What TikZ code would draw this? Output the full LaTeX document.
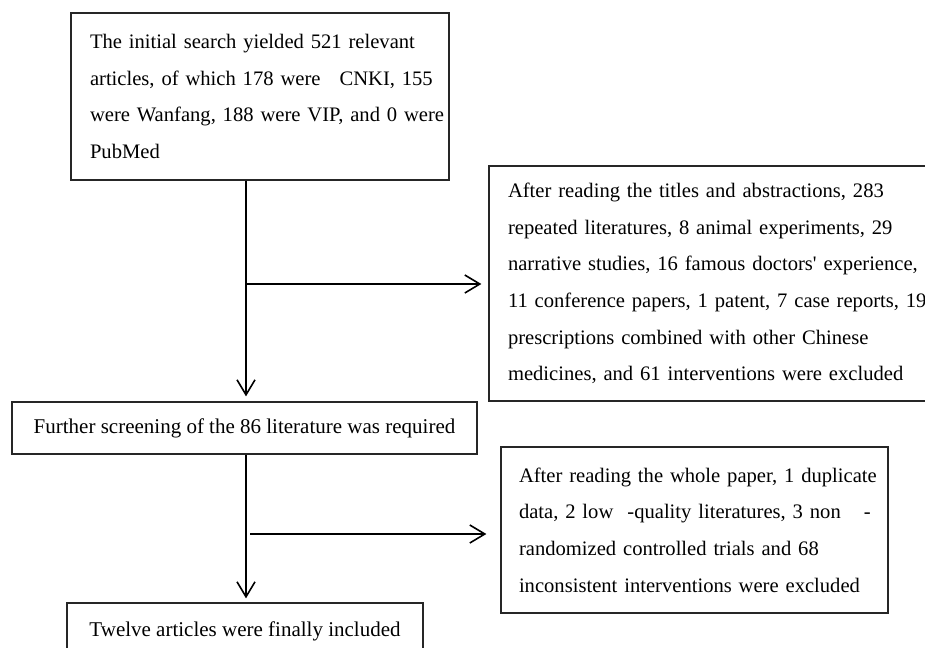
\documentclass[tikz,border=0pt]{standalone}
\usepackage{fontspec}
\setmainfont{Liberation Serif}[Ligatures=TeXOff]
\usetikzlibrary{arrows.meta,calc}
\begin{document}
\begin{tikzpicture}[x=1pt,y=-1pt,
  box/.style={draw=black!85, line width=1.3pt, inner sep=0pt,
    font=\fontsize{21}{36.6}\selectfont},
  lbox/.style={box, align=left, font=\fontsize{20.6}{36.6}\selectfont},
  arr/.style={line width=1.6pt,
    -{Straight Barb[length=15pt,width=18pt,line width=1.6pt]}}]
\useasboundingbox (0,0) rectangle (925,647);
\clip (0,0) rectangle (925,647);
\fill[white] (0,0) rectangle (925,647);

\node[lbox, minimum width=378pt, minimum height=167pt, text width=340pt, inner xsep=19pt] (b1) at (260,96.5)
  {\mbox{The initial search yielded 521 relevant}\\
   \mbox{articles, of which 178 were\hspace*{19pt}CNKI, 155}\\
   \mbox{were Wanfang, 188 were VIP, and 0 were}\\
   \mbox{PubMed}};

\node[lbox, minimum width=450pt, minimum height=235pt, text width=412pt, inner xsep=19pt] (b2) at (714,283.5)
  {\mbox{After reading the titles and abstractions, 283}\\
   \mbox{repeated literatures, 8 animal experiments, 29}\\
   \mbox{narrative studies, 16 famous doctors' experience,}\\
   \mbox{11 conference papers, 1 patent, 7 case reports, 19}\\
   \mbox{prescriptions combined with other Chinese}\\
   \mbox{medicines, and 61 interventions were excluded}};

\node[box, minimum width=465pt, minimum height=52pt] (b3) at (244.5,428)
  {Further screening of the 86 literature was required};

\node[lbox, minimum width=387pt, minimum height=166pt, text width=351pt, inner xsep=18pt] (b4) at (694.5,530)
  {\mbox{After reading the whole paper, 1 duplicate}\\
   \mbox{data, 2 low\hspace*{14pt}-quality literatures, 3 non\hspace*{23pt}-}\\
   \mbox{randomized controlled trials and 68}\\
   \mbox{inconsistent interventions were excluded}};

\node[box, minimum width=356pt, minimum height=56pt] (b5) at (245,631)
  {Twelve articles were finally included};

\coordinate (j1) at (246,284);
\coordinate (j2) at (250,534);

\draw[arr] (b1.south -| j1) -- ($(b3.north -| j1)+(0,-5)$);
\draw[arr] (j1) -- ($(b2.west |- j1)+(-7,0)$);
\draw[arr] (b3.south -| j1) -- ($(b5.north -| j1)+(0,-4)$);
\draw[arr] (j2) -- ($(b4.west |- j2)+(-14,0)$);
\end{tikzpicture}
\end{document}
